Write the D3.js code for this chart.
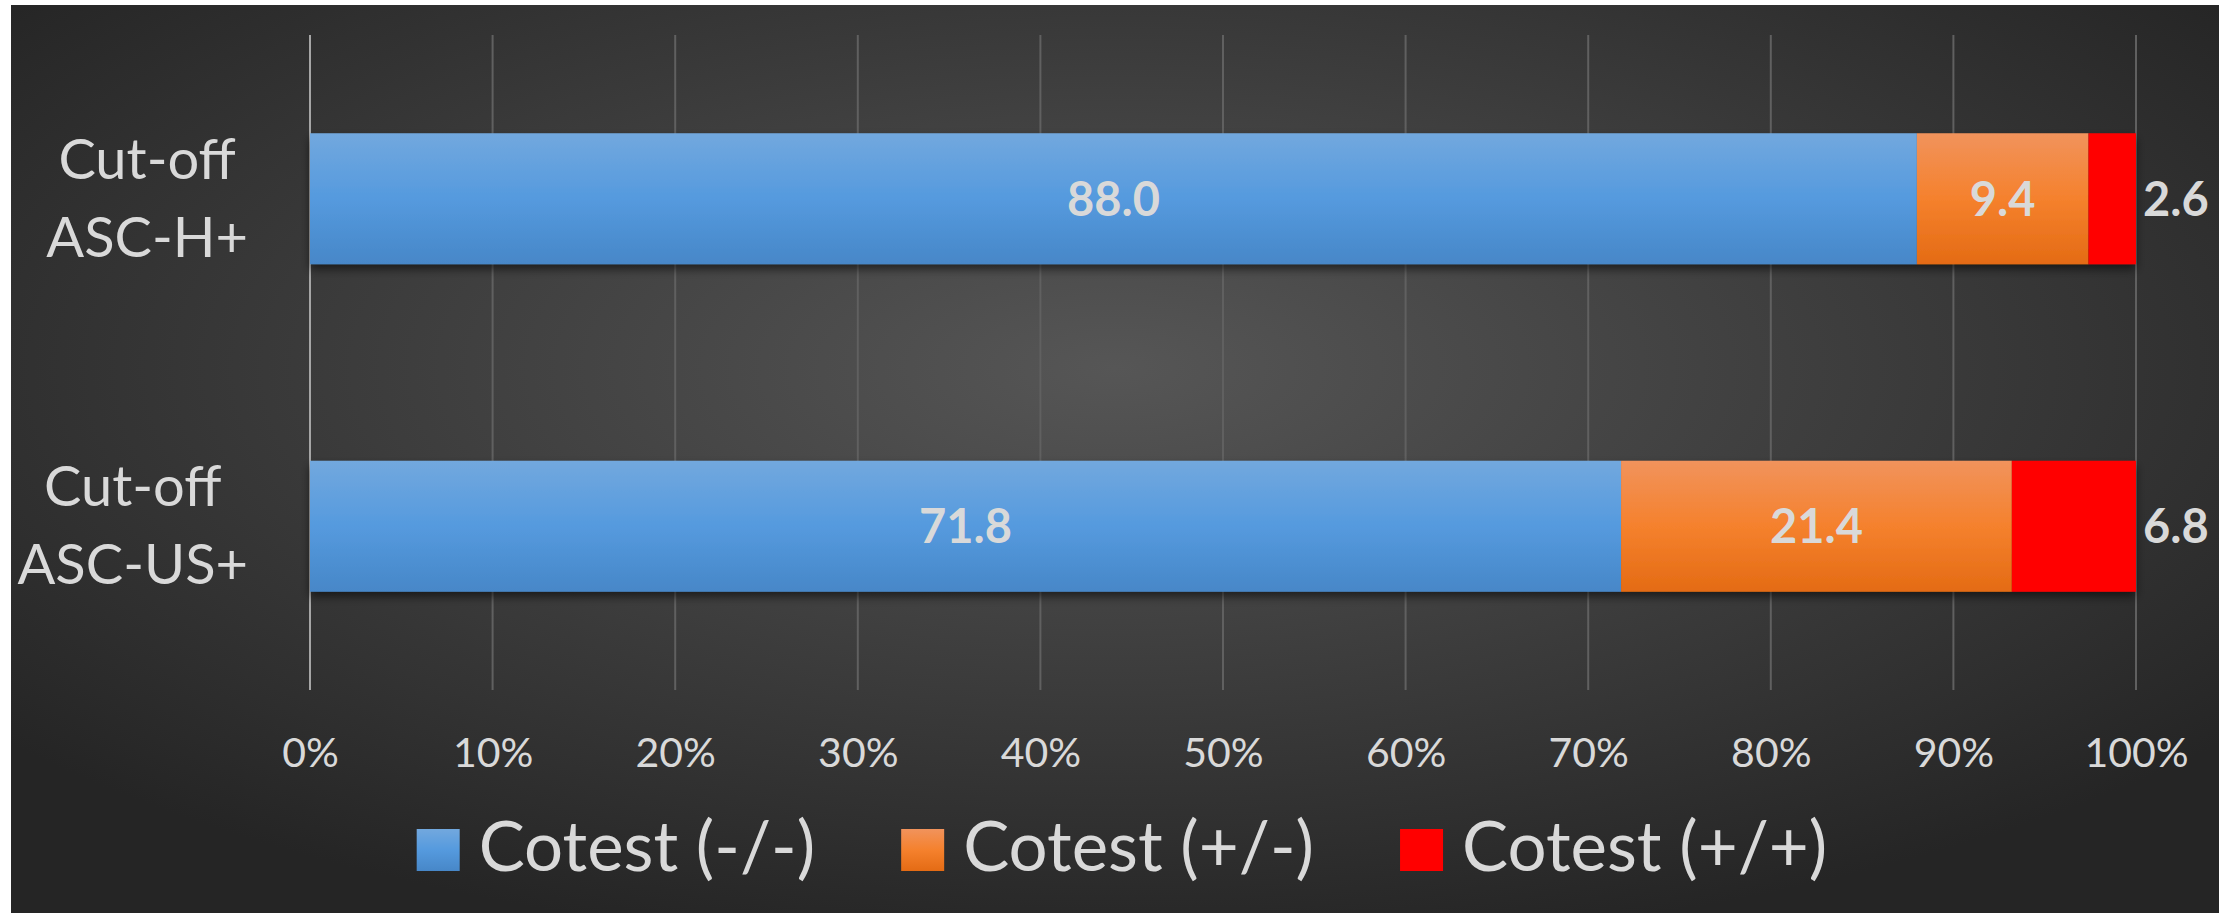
<!DOCTYPE html>
<html>
<head>
<meta charset="utf-8">
<script src="https://cdn.jsdelivr.net/npm/d3@7"></script>
<style>
  html, body { margin: 0; padding: 0; background: #fff; }
  svg { display: block; }
  text { font-family: Lato, "Open Sans", sans-serif; fill: #d9d9d9; }
</style>
</head>
<body>
<div id="chart"></div>
<script>
// chart data
var categories = [["Cut-off", "ASC-H+"], ["Cut-off", "ASC-US+"]];
var seriesNames = ["Cotest (-/-)", "Cotest (+/-)", "Cotest (+/+)"];
var negNeg = [88.0, 71.8];
var posNeg = [9.4, 21.4];
var posPos = [2.6, 6.8];
var tickValues = [0, 10, 20, 30, 40, 50, 60, 70, 80, 90, 100];

var W = 2234, H = 913;
var plot = {left: 310, right: 2136, top: 35, bottom: 690};

var svg = d3.select("#chart").append("svg")
  .attr("width", W)
  .attr("height", H);

var defs = svg.append("defs");

// background gradient
var bg = defs.append("radialGradient")
  .attr("id", "bg")
  .attr("cx", "50%").attr("cy", "40%").attr("r", "65%")
  .attr("gradientUnits", "objectBoundingBox");
bg.append("stop").attr("offset", "0%").attr("stop-color", "#565656");
bg.append("stop").attr("offset", "100%").attr("stop-color", "#252525");

function vgrad(id, c1, c2, c3) {
  var g = defs.append("linearGradient").attr("id", id)
    .attr("x1", 0).attr("y1", 0).attr("x2", 0).attr("y2", 1);
  g.append("stop").attr("offset", "0%").attr("stop-color", c1);
  g.append("stop").attr("offset", "50%").attr("stop-color", c2);
  g.append("stop").attr("offset", "100%").attr("stop-color", c3);
}
vgrad("gBlue", "#72a8de", "#559ade", "#4787c8");
vgrad("gOrange", "#f1935c", "#f5812d", "#e46b14");

var shadow = defs.append("filter").attr("id", "shadow")
  .attr("x", "-5%").attr("y", "-20%").attr("width", "110%").attr("height", "150%");
shadow.append("feDropShadow")
  .attr("dx", 0).attr("dy", 5).attr("stdDeviation", 5)
  .attr("flood-color", "#000").attr("flood-opacity", 0.55);

svg.append("rect")
  .attr("x", 11).attr("y", 5)
  .attr("width", 2219 - 11).attr("height", H - 5)
  .attr("fill", "url(#bg)");

// scales
var x = d3.scaleLinear().domain([0, 100]).range([plot.left, plot.right]);
var y = d3.scaleBand()
  .domain(d3.range(categories.length))
  .range([plot.top, plot.bottom])
  .paddingInner(0.6)
  .paddingOuter(0.3);

// gridlines
svg.append("g")
  .selectAll("line")
  .data(tickValues.filter(function(d) { return d > 0; }))
  .enter().append("line")
  .attr("x1", function(d) { return x(d); })
  .attr("x2", function(d) { return x(d); })
  .attr("y1", plot.top).attr("y2", plot.bottom)
  .attr("stroke", "#606060")
  .attr("stroke-width", 2);

svg.append("line")
  .attr("x1", x(0)).attr("x2", x(0))
  .attr("y1", plot.top).attr("y2", plot.bottom)
  .attr("stroke", "#a6a6a6")
  .attr("stroke-width", 2);

// x axis labels
var xAxis = d3.axisBottom(x)
  .tickValues(tickValues)
  .tickSize(0)
  .tickPadding(0)
  .tickFormat(function(d) { return d + "%"; });
var gx = svg.append("g")
  .attr("transform", "translate(0," + 767 + ")")
  .call(xAxis);
gx.select(".domain").remove();
gx.selectAll("text")
  .attr("dy", 0)
  .attr("y", 0)
  .style("font-size", "41px")
  .style("fill", "#d9d9d9")
  .style("font-family", "Lato, sans-serif");

// stacked bars
var stackRows = categories.map(function(c, i) {
  return {i: i, a: negNeg[i], b: posNeg[i], c: posPos[i]};
});
var stacked = d3.stack().keys(["a", "b", "c"])(stackRows);
var fills = ["url(#gBlue)", "url(#gOrange)", "#ff0000"];
var legendFills = fills;

var barsG = svg.append("g").attr("filter", "url(#shadow)");
stacked.forEach(function(layer, k) {
  barsG.selectAll(".s" + k)
    .data(layer)
    .enter().append("rect")
    .attr("x", function(d) { return x(d[0]); })
    .attr("width", function(d) { return x(d[1]) - x(d[0]); })
    .attr("y", function(d) { return y(d.data.i); })
    .attr("height", y.bandwidth())
    .attr("fill", fills[k]);
});

// data labels
stacked.forEach(function(layer, k) {
  svg.selectAll(".l" + k)
    .data(layer)
    .enter().append("text")
    .attr("x", function(d) { return k < 2 ? x((d[0] + d[1]) / 2) : x(100) + 7; })
    .attr("y", function(d) { return y(d.data.i) + y.bandwidth() / 2 + 17; })
    .attr("text-anchor", k < 2 ? "middle" : "start")
    .style("font-size", "47px")
    .style("font-weight", "bold")
    .text(function(d) { return (d[1] - d[0]).toFixed(1); });
});

// category labels, lines centered, block right-aligned
categories.forEach(function(lines, i) {
  var cy = y(i) + y.bandwidth() / 2;
  var g = svg.append("g");
  var t = g.selectAll("text").data(lines).enter().append("text")
    .style("font-size", "56px")
    .attr("text-anchor", "middle")
    .attr("y", function(d, j) { return cy - 20 + j * 78; })
    .text(function(d) { return d; });
  var maxW = d3.max(t.nodes(), function(n) { return n.getComputedTextLength(); });
  t.attr("x", 248 - maxW / 2);
});

// legend
var legend = svg.append("g");
var lx = 0;
var items = legend.selectAll("g").data(seriesNames).enter().append("g");
items.each(function(d, i) {
  var g = d3.select(this);
  g.append("rect")
    .attr("x", 0).attr("y", -42)
    .attr("width", 43).attr("height", 42)
    .attr("fill", legendFills[i]);
  var txt = g.append("text")
    .attr("x", 62).attr("y", 0)
    .style("font-size", "69px")
    .text(d);
  var w = 62 + txt.node().getComputedTextLength();
  g.attr("transform", "translate(" + lx + ",0)");
  lx += w + 86;
});
var legendW = lx - 86;
legend.attr("transform", "translate(" + (1122 - legendW / 2) + "," + 871 + ")");
</script>
</body>
</html>
